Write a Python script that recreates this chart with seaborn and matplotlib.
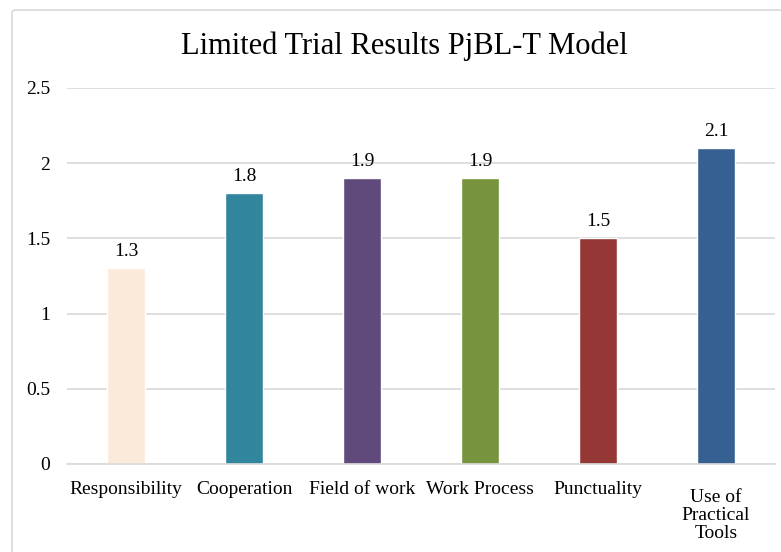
import matplotlib
matplotlib.use("Agg")
import matplotlib.pyplot as plt
import matplotlib.patches as mpatches
import matplotlib.transforms as mtransforms
import pandas as pd
import seaborn as sns

categories = ["Responsibility", "Cooperation", "Field of work", "Work Process",
              "Punctuality", "Use of\nPractical\nTools"]
scores = [1.3, 1.8, 1.9, 1.9, 1.5, 2.1]
bar_colors = ["#FBE9D9", "#31859C", "#604A7B", "#77933C", "#953735", "#376092"]
yticks = [0, 0.5, 1, 1.5, 2, 2.5]

df = pd.DataFrame({"aspect": categories, "score": scores})

sns.set_style("white")
plt.rcParams["font.family"] = ["Liberation Serif", "DejaVu Serif"]
plt.rcParams["text.color"] = "black"
plt.rcParams["xtick.color"] = "black"
plt.rcParams["ytick.color"] = "black"

fig = plt.figure(figsize=(7.81, 5.52), dpi=100)
ax = fig.add_axes([67 / 781, 1 - 464 / 552, 708 / 781, (464 - 88) / 552])

sns.barplot(data=df, x="aspect", y="score", hue="aspect", palette=bar_colors,
            legend=False, width=0.32, ax=ax, saturation=1)

ax.set_ylim(0, 2.5)
ax.set_xlim(-0.5, 5.5)
ax.set_yticks(yticks)
ax.set_yticklabels(["0", "0.5", "1", "1.5", "2", "2.5"])
ax.yaxis.grid(True, color="#D9D9D9", linewidth=1.2)
ax.set_axisbelow(True)
for s in ["top", "right", "left"]:
    ax.spines[s].set_visible(False)
ax.spines["bottom"].set_color("#D9D9D9")
ax.spines["bottom"].set_linewidth(1.2)
ax.tick_params(axis="y", length=0, pad=12, labelsize=14)
ax.tick_params(axis="x", length=0, pad=12, labelsize=14)
for lbl in ax.get_xticklabels():
    lbl.set_linespacing(1.08)
# the wrapped label sits a bit lower in the original
last = ax.get_xticklabels()[-1]
last.set_transform(last.get_transform() +
                   mtransforms.ScaledTranslation(0, -8 / 100, fig.dpi_scale_trans))
ax.set_xlabel("")
ax.set_ylabel("")

for c in ax.containers:
    ax.bar_label(c, labels=[f"{v:g}" for v in c.datavalues], padding=6, fontsize=14)

fig.text(404 / 781, 1 - 46 / 552, "Limited Trial Results PjBL-T Model",
         ha="center", va="center", fontsize=22)

border = mpatches.FancyBboxPatch((12 / 781, -0.05), 1.0, 1 - 10 / 552 + 0.05,
                                 boxstyle="round,pad=0,rounding_size=0.005",
                                 transform=fig.transFigure, fill=False,
                                 edgecolor="#D9D9D9", linewidth=1.2)
fig.patches.append(border)

fig.savefig("out.png", dpi=100)
